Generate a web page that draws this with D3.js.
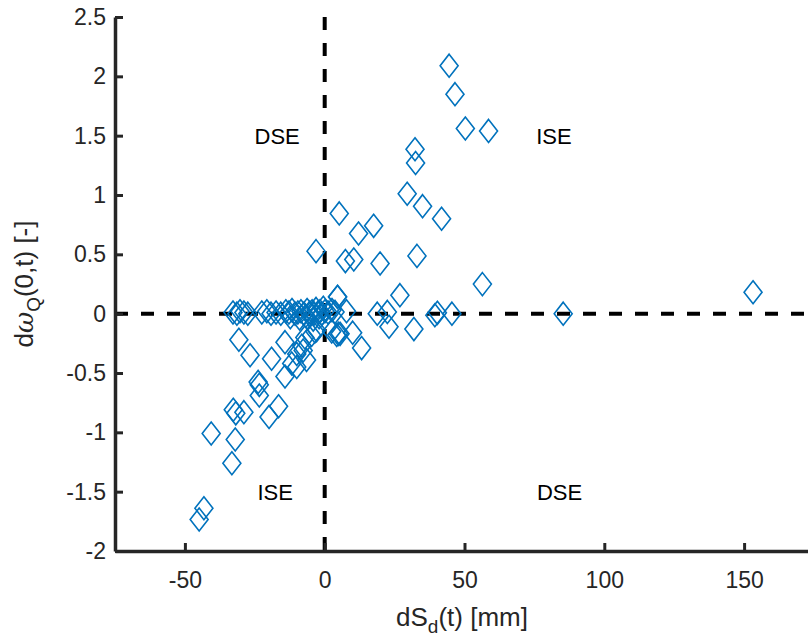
<!DOCTYPE html>
<html>
<head>
<meta charset="utf-8">
<script src="https://cdn.jsdelivr.net/npm/d3@7"></script>
<style>
  body { margin: 0; background: #fff; }
  svg { display: block; font-family: "Liberation Sans", Arial, sans-serif; }
  .axis path, .axis line { stroke: #262626; }
  .axis text { fill: #262626; font-size: 23px; }
</style>
</head>
<body>
<svg id="graphsvg" width="808" height="637"></svg>
<script>
// change in storage dS_d(t) [mm]
var dS = [
  -32.8, -31.4, -30.3, -28.9, -27.5, -22.5, -20.7, -19.2, -17.4, -15.7, -13.9, -12.8,
  -11.7, -10.6, -9.6, -8.5, -7.4, -6.3, -5.3, -4.5, -3.8, -3.1, -2.4, -1.7, -1.0, 0.1, 1.2,
  -12.3, -9.0, -6.8, -4.1, -2.0, -0.5, 2.6, 7.8, 4.6, 3.7,
  -30.7, -26.7, -19.0, -14.2, -11.8, -14.2, -10.0, -8.2, -7.7, -7.1, -4.7, -2.9, -23.8, -10.0,
  2.5, 5.5, 4.3, -3.5, -6.5,
  -23.4, -23.4, -32.7, -31.8, -28.9, -19.9, -16.5, -40.6, -32.0, -33.2, -43.2, -44.9,
  44.5, 46.6, 50.3, 58.6, 32.3, 32.5, 29.5, 35.0, 41.8,
  5.2, 12.1, 17.5, -3.1, 7.4, 10.4, 19.8, 33.0, 56.4, 26.9, 4.6,
  18.8, 22.4, 23.0, 31.9, 39.4, 40.3, 45.5, 4.9, 10.0, 13.2, 85.3, 153.2
];
// change in dω_Q(0,t) [-]
var dOmega = [
  0.01, 0.0, 0.02, 0.01, 0.0, 0.01, 0.02, 0.0, 0.01, 0.0, 0.02, 0.01,
  0.03, 0.0, 0.01, 0.02, 0.0, 0.03, 0.01, 0.02, 0.0, 0.04, 0.01, 0.02, 0.0, 0.02, 0.01,
  -0.03, -0.04, -0.02, -0.05, -0.03, 0.05, 0.03, 0.02, 0.14, 0.015,
  -0.22, -0.35, -0.38, -0.24, -0.42, -0.53, -0.34, -0.27, -0.31, -0.20, -0.18, -0.14, -0.575, -0.45,
  -0.15, -0.17, -0.18, -0.15, -0.39,
  -0.60, -0.69, -0.81, -0.84, -0.83, -0.87, -0.78, -1.01, -1.06, -1.26, -1.64, -1.735,
  2.09, 1.85, 1.56, 1.54, 1.385, 1.27, 1.01, 0.906, 0.80,
  0.845, 0.676, 0.74, 0.527, 0.443, 0.457, 0.423, 0.487, 0.249, 0.156, 0.142,
  0.0, 0.015, -0.11, -0.13, -0.013, 0.007, 0.0, -0.17, -0.16, -0.29, 0.0, 0.18
];
var xTicks = [-50, 0, 50, 100, 150];
var yTicks = [-2, -1.5, -1, -0.5, 0, 0.5, 1, 1.5, 2, 2.5];
var quadrantLabels = [
  {text: "DSE", x: -17, y: 1.5},
  {text: "ISE", x: 82, y: 1.5},
  {text: "ISE", x: -17.7, y: -1.5},
  {text: "DSE", x: 84, y: -1.5}
];

var svg = d3.select("#graphsvg");

var x = d3.scaleLinear().domain([-75, 175]).range([115, 814]);
var y = d3.scaleLinear().domain([-2, 2.5]).range([551, 17]);

var data = dS.map(function(d, i) { return {x: d, y: dOmega[i]}; });

// reference lines through the origin
svg.append("line")
    .attr("x1", x(0)).attr("x2", x(0))
    .attr("y1", y(2.5)).attr("y2", y(-2))
    .attr("stroke", "#000").attr("stroke-width", 4)
    .attr("stroke-dasharray", "13,13");
svg.append("line")
    .attr("x1", x(-75)).attr("x2", x(175))
    .attr("y1", y(0)).attr("y2", y(0))
    .attr("stroke", "#000").attr("stroke-width", 4)
    .attr("stroke-dasharray", "13,13");

// diamonds
var w = 9, h = 11.5;
svg.selectAll(".pt")
    .data(data)
  .enter().append("path")
    .attr("class", "pt")
    .attr("d", "M0," + (-h) + "L" + w + ",0L0," + h + "L" + (-w) + ",0Z")
    .attr("transform", function(d) { return "translate(" + x(d.x) + "," + y(d.y) + ")"; })
    .attr("fill", "none")
    .attr("stroke", "#0072BD")
    .attr("stroke-width", 1.6);

// axes
var fmt = function(d) { return String(d); };
svg.append("g")
    .attr("class", "axis")
    .attr("transform", "translate(0," + y(-2) + ")")
    .call(d3.axisBottom(x).tickValues(xTicks).tickFormat(fmt).tickSizeInner(-8).tickSizeOuter(0).tickPadding(21))
    .call(function(g) { g.select(".domain").attr("stroke-width", 3.5); g.selectAll(".tick line").attr("stroke-width", 3); });

svg.append("g")
    .attr("class", "axis")
    .attr("transform", "translate(" + x(-75) + ",0)")
    .call(d3.axisLeft(y).tickValues(yTicks).tickFormat(fmt).tickSizeInner(-8).tickSizeOuter(0).tickPadding(9))
    .call(function(g) { g.select(".domain").attr("stroke-width", 3.5); g.selectAll(".tick line").attr("stroke-width", 3); });

// quadrant labels
svg.selectAll(".ql")
    .data(quadrantLabels)
  .enter().append("text")
    .attr("class", "ql")
    .attr("x", function(d) { return x(d.x); })
    .attr("y", function(d) { return y(d.y); })
    .attr("dy", "0.36em")
    .attr("text-anchor", "middle")
    .style("font-size", "22px")
    .attr("fill", "#000")
    .text(function(d) { return d.text; });

// axis titles
var xt = svg.append("text")
    .attr("x", 462)
    .attr("y", 626)
    .attr("text-anchor", "middle")
    .style("font-size", "26px")
    .attr("fill", "#262626");
xt.append("tspan").text("dS");
xt.append("tspan").attr("dy", 7).style("font-size", "19px").text("d");
xt.append("tspan").attr("dy", -7).text("(t) [mm]");

var yt = svg.append("text")
    .attr("transform", "translate(33,284) rotate(-90)")
    .attr("text-anchor", "middle")
    .style("font-size", "26px")
    .attr("fill", "#262626");
yt.append("tspan").text("d");
yt.append("tspan").style("font-family", "DejaVu Serif").style("font-style", "italic").text("ω");
yt.append("tspan").attr("dy", 7).style("font-size", "19px").text("Q");
yt.append("tspan").attr("dy", -7).text("(0,t) [-]");
</script>
</body>
</html>
